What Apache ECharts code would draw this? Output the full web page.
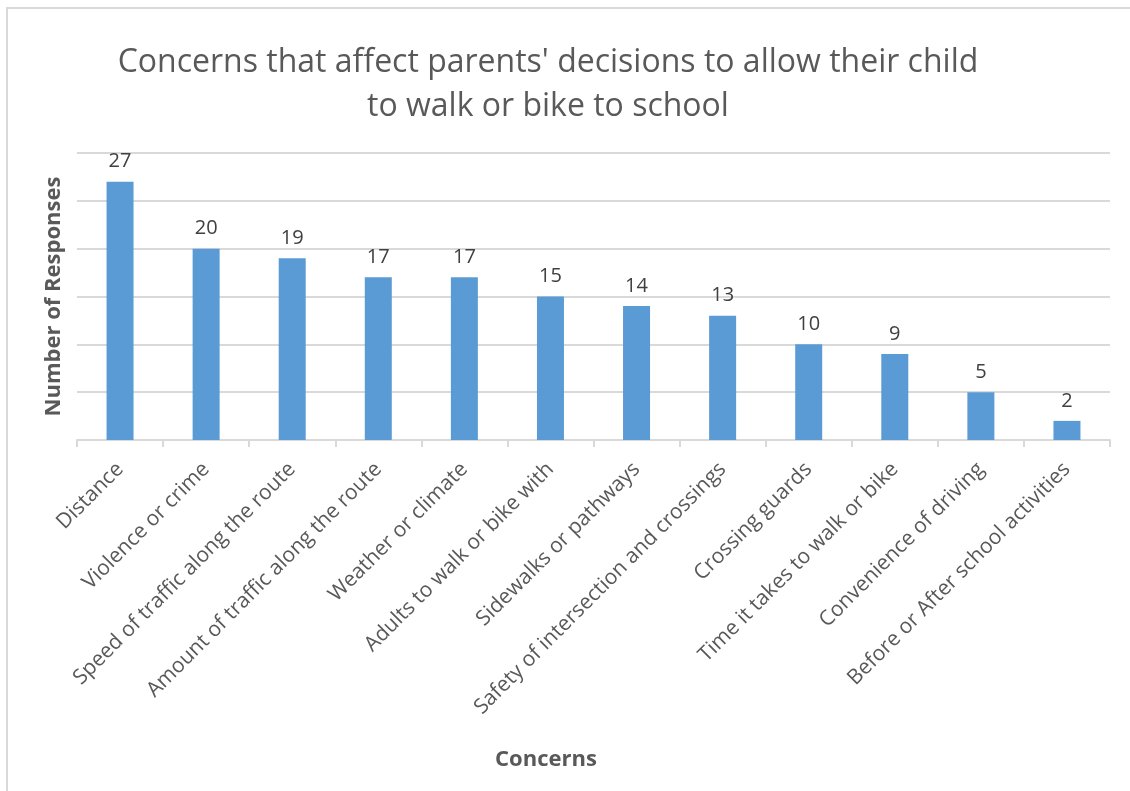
<!DOCTYPE html>
<html>
<head>
<meta charset="utf-8">
<script src="https://cdn.jsdelivr.net/npm/echarts@6/dist/echarts.min.js"></script>
<style>
  html, body { margin: 0; padding: 0; background: #fff; }
  #main { width: 1130px; height: 791px; }
</style>
</head>
<body>
<div id="main"></div>
<script>
var concerns = [
    'Distance',
    'Violence or crime',
    'Speed of traffic along the route',
    'Amount of traffic along the route',
    'Weather or climate',
    'Adults to walk or bike with',
    'Sidewalks or pathways',
    'Safety of intersection and crossings',
    'Crossing guards',
    'Time it takes to walk or bike',
    'Convenience of driving',
    'Before or After school activities'
];
var responses = [27, 20, 19, 17, 17, 15, 14, 13, 10, 9, 5, 2];

var chartDom = document.getElementById('main');
var myChart = echarts.init(chartDom);
var fontName = '"Open Sans", "Noto Sans", sans-serif';

var option = {
    backgroundColor: '#fff',
    animation: false,
    title: {
        text: "Concerns that affect parents' decisions to allow their child\nto walk or bike to school",
        left: 543,
        top: 36,
        textAlign: 'center',
        textStyle: {
            fontFamily: fontName,
            fontSize: 32,
            fontWeight: 'normal',
            color: '#595959',
            lineHeight: 44
        }
    },
    graphic: [
        {
            type: 'rect',
            shape: { x: 7, y: 8, width: 1300, height: 900 },
            style: { fill: 'none', stroke: '#d9d9d9', lineWidth: 2 },
            silent: true
        },
        {
            type: 'text',
            x: 546,
            y: 749,
            style: {
                text: 'Concerns',
                textAlign: 'center',
                font: 'bold 22px ' + fontName,
                fill: '#595959'
            }
        }
    ],
    grid: {
        left: 77,
        right: 20,
        top: 153,
        bottom: 351
    },
    xAxis: {
        type: 'category',
        data: concerns,
        axisLine: { lineStyle: { color: '#d9d9d9', width: 2 } },
        axisTick: { show: true, length: 7, lineStyle: { color: '#d9d9d9', width: 2 } },
        axisLabel: {
            rotate: 45,
            interval: 0,
            margin: 26,
            fontFamily: fontName,
            fontSize: 21,
            color: '#595959'
        }
    },
    yAxis: {
        type: 'value',
        min: 0,
        max: 30,
        interval: 5,
        name: 'Number of Responses',
        nameLocation: 'middle',
        nameGap: 12,
        nameTextStyle: {
            fontFamily: fontName,
            fontSize: 22,
            fontWeight: 'bold',
            color: '#595959'
        },
        axisLabel: { show: false },
        axisLine: { show: false },
        axisTick: { show: false },
        splitLine: { lineStyle: { color: '#d9d9d9', width: 2 } }
    },
    series: [
        {
            type: 'bar',
            data: responses,
            barWidth: 27,
            itemStyle: { color: '#5b9bd5' },
            label: {
                show: true,
                position: 'top',
                distance: 10,
                fontFamily: fontName,
                fontSize: 20,
                color: '#404040'
            }
        }
    ]
};

option && myChart.setOption(option);
</script>
</body>
</html>
